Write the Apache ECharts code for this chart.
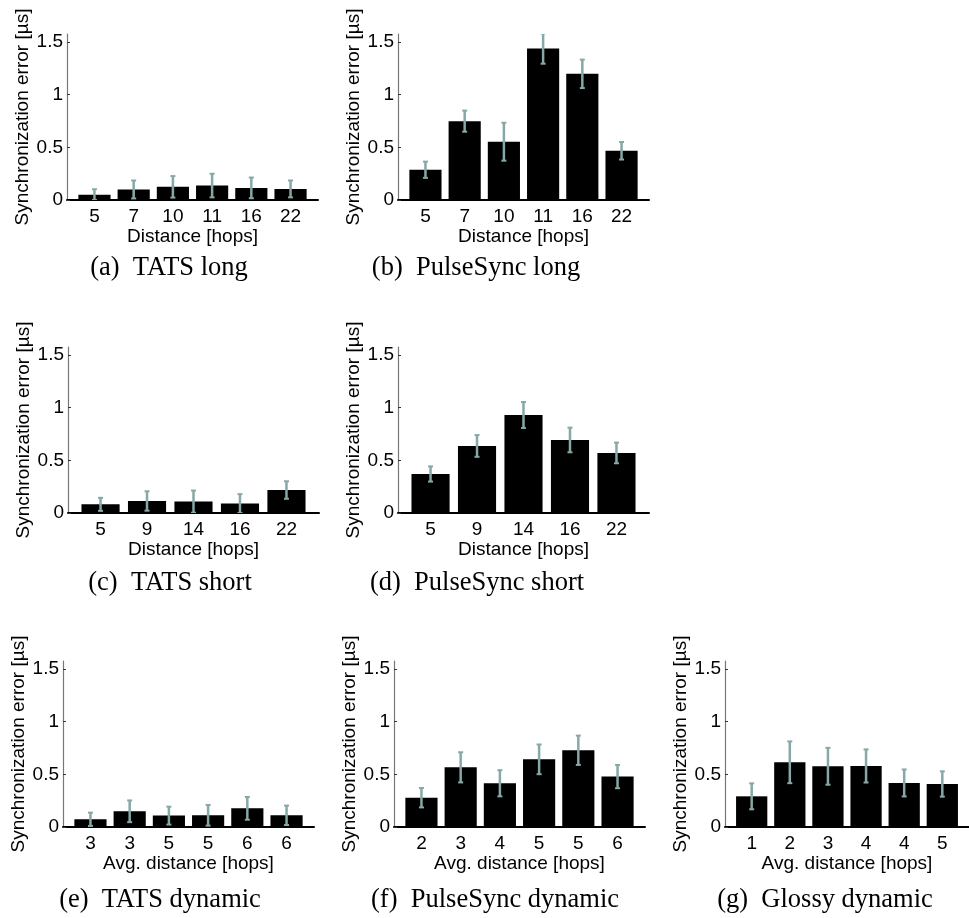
<!DOCTYPE html>
<html>
<head>
<meta charset="utf-8">
<script src="https://cdn.jsdelivr.net/npm/echarts@6/dist/echarts.min.js"></script>
<style>
  html, body { margin: 0; padding: 0; background: #fff; }
  #chart { width: 969px; height: 918px; }
</style>
</head>
<body>
<div id="chart"></div>
<script>
// Synchronization error per distance, mean and standard deviation (µs)
const catsTatsLong = ['5', '7', '10', '11', '16', '22'];
const meanTatsLong = [0.050, 0.100, 0.125, 0.137, 0.115, 0.105];
const errTatsLong  = [0.052, 0.085, 0.102, 0.112, 0.098, 0.080];

const catsPulseLong = ['5', '7', '10', '11', '16', '22'];
const meanPulseLong = [0.287, 0.748, 0.553, 1.437, 1.197, 0.467];
const errPulseLong  = [0.077, 0.100, 0.180, 0.144, 0.135, 0.083];

const catsTatsShort = ['5', '9', '14', '16', '22'];
const meanTatsShort = [0.082, 0.114, 0.108, 0.089, 0.218];
const errTatsShort  = [0.062, 0.092, 0.105, 0.090, 0.083];

const catsPulseShort = ['5', '9', '14', '16', '22'];
const meanPulseShort = [0.370, 0.636, 0.930, 0.693, 0.570];
const errPulseShort  = [0.072, 0.103, 0.123, 0.117, 0.098];

const catsTatsDyn = ['3', '3', '5', '5', '6', '6'];
const meanTatsDyn = [0.073, 0.149, 0.108, 0.111, 0.177, 0.111];
const errTatsDyn  = [0.063, 0.103, 0.085, 0.098, 0.108, 0.092];

const catsPulseDyn = ['2', '3', '4', '5', '5', '6'];
const meanPulseDyn = [0.278, 0.566, 0.415, 0.642, 0.728, 0.478];
const errPulseDyn  = [0.092, 0.143, 0.124, 0.141, 0.139, 0.110];

const catsGlossyDyn = ['1', '2', '3', '4', '4', '5'];
const meanGlossyDyn = [0.291, 0.614, 0.576, 0.579, 0.418, 0.408];
const errGlossyDyn  = [0.123, 0.198, 0.175, 0.157, 0.128, 0.120];

const yTicks = [0, 0.5, 1, 1.5];
const yLabel = 'Synchronization error [µs]';

// Panel definitions: data + where each subplot sits on the page
const panels = [
  { cats: catsTatsLong,   mean: meanTatsLong,   err: errTatsLong,   xName: 'Distance [hops]',      caption: '(a)  TATS long',          left: 67,  top: 34,  capX: 169, capY: 268 },
  { cats: catsPulseLong,  mean: meanPulseLong,  err: errPulseLong,  xName: 'Distance [hops]',      caption: '(b)  PulseSync long',     left: 398, top: 34,  capX: 476, capY: 268 },
  { cats: catsTatsShort,  mean: meanTatsShort,  err: errTatsShort,  xName: 'Distance [hops]',      caption: '(c)  TATS short',         left: 68,  top: 347, capX: 170, capY: 583 },
  { cats: catsPulseShort, mean: meanPulseShort, err: errPulseShort, xName: 'Distance [hops]',      caption: '(d)  PulseSync short',    left: 398, top: 347, capX: 477, capY: 583 },
  { cats: catsTatsDyn,    mean: meanTatsDyn,    err: errTatsDyn,    xName: 'Avg. distance [hops]', caption: '(e)  TATS dynamic',       left: 63,  top: 661, capX: 160, capY: 900 },
  { cats: catsPulseDyn,   mean: meanPulseDyn,   err: errPulseDyn,   xName: 'Avg. distance [hops]', caption: '(f)  PulseSync dynamic',  left: 394, top: 661, capX: 495, capY: 900 },
  { cats: catsGlossyDyn,  mean: meanGlossyDyn,  err: errGlossyDyn,  xName: 'Avg. distance [hops]', caption: '(g)  Glossy dynamic',     left: 725, top: 661, capX: 825, capY: 900 }
];

const PLOT_W = 251, PLOT_H = 166, Y_MAX = 1.575;
const SANS = '"Liberation Sans", Arial, Helvetica, sans-serif';
const SERIF = '"Liberation Serif", "Times New Roman", serif';
const ERR_COLOR = '#86a8a6';

const grids = [], xAxes = [], yAxes = [], series = [], graphics = [];

panels.forEach((p, i) => {
  const n = p.cats.length;
  const positions = p.cats.map((_, k) => k + 1);
  grids.push({ left: p.left, top: p.top, width: PLOT_W, height: PLOT_H });
  xAxes.push({
    type: 'value', gridIndex: i, min: 0.3, max: n + 0.7,
    name: p.xName, nameLocation: 'middle', nameGap: 25,
    nameTextStyle: { fontFamily: SANS, fontSize: 19, color: '#000' },
    axisLine: { show: true, onZero: false, lineStyle: { color: '#000', width: 2 } },
    axisTick: { show: false },
    splitLine: { show: false },
    axisLabel: {
      customValues: positions,
      formatter: v => p.cats[Math.round(v) - 1] || '',
      margin: 7, fontFamily: SANS, fontSize: 19, color: '#000'
    }
  });
  yAxes.push({
    type: 'value', gridIndex: i, min: 0, max: Y_MAX,
    name: yLabel, nameLocation: 'middle', nameGap: 33, nameRotate: 90,
    nameTextStyle: { fontFamily: SANS, fontSize: 19, color: '#000' },
    axisLine: { show: true, lineStyle: { color: '#777', width: 1.2 } },
    axisTick: { show: true, inside: true, length: 3, customValues: yTicks, lineStyle: { color: '#333' } },
    splitLine: { show: false },
    axisLabel: { customValues: yTicks, margin: 4, fontFamily: SANS, fontSize: 19, color: '#000' }
  });
  series.push({
    type: 'custom', xAxisIndex: i, yAxisIndex: i, clip: true,
    data: p.mean.map((m, k) => [k + 1, m, p.err[k]]),
    renderItem: (params, api) => {
      const x = api.value(0), m = api.value(1), e = api.value(2);
      const base = api.coord([x, 0]);
      const top = api.coord([x, m]);
      const hi = api.coord([x, m + e]);
      const lo = api.coord([x, Math.max(m - e, 0)]);
      const bw = api.size([0.82, 0])[0];
      const cap = 2.5;
      return {
        type: 'group',
        children: [
          { type: 'rect', shape: { x: base[0] - bw / 2, y: top[1], width: bw, height: base[1] - top[1] },
            style: { fill: '#000' } },
          { type: 'line', shape: { x1: hi[0], y1: hi[1], x2: lo[0], y2: lo[1] },
            style: { stroke: ERR_COLOR, lineWidth: 2.5 } },
          { type: 'line', shape: { x1: hi[0] - cap, y1: hi[1], x2: hi[0] + cap, y2: hi[1] },
            style: { stroke: ERR_COLOR, lineWidth: 2 } },
          { type: 'line', shape: { x1: lo[0] - cap, y1: lo[1], x2: lo[0] + cap, y2: lo[1] },
            style: { stroke: ERR_COLOR, lineWidth: 2 } }
        ]
      };
    }
  });
  graphics.push({
    type: 'text', x: p.capX, y: p.capY,
    style: { text: p.caption, fontFamily: SERIF, fontSize: 26.5, fill: '#000',
             textAlign: 'center', textVerticalAlign: 'middle' }
  });
});

const chart = echarts.init(document.getElementById('chart'), null, { renderer: 'canvas' });
chart.setOption({
  backgroundColor: '#fff',
  animation: false,
  grid: grids,
  xAxis: xAxes,
  yAxis: yAxes,
  series: series,
  graphic: graphics
});
</script>
</body>
</html>
